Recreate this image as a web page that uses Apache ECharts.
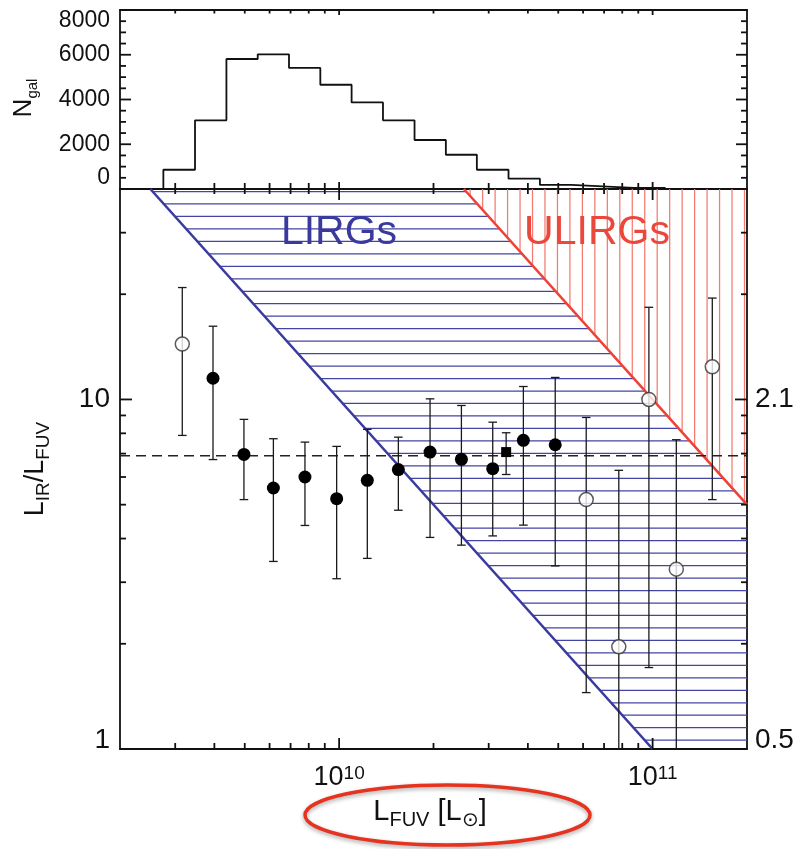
<!DOCTYPE html>
<html>
<head>
<meta charset="utf-8">
<script src="https://cdn.jsdelivr.net/npm/echarts@6/dist/echarts.min.js"></script>
<style>
  html, body { margin: 0; padding: 0; background: #fff; }
  #chart { width: 803px; height: 849px; }
</style>
</head>
<body>
<div id="chart"></div>
<script>
const FONT = '"Liberation Sans", Arial, Helvetica, sans-serif';
const INK = '#111';

// Axis ranges
const fuvRange = [2e9, 2e11];      // L_FUV [L_sun]
const ratioRange = [1, 40];        // L_IR / L_FUV
const countRange = [0, 8000];      // N_gal

// N_gal histogram: bin edges (L_FUV) and counts per bin
const histEdges = [2.75e9, 3.47e9, 4.37e9, 5.50e9, 6.92e9, 8.71e9, 1.096e10, 1.38e10, 1.74e10,
                   2.19e10, 2.75e10, 3.47e10, 4.37e10, 5.50e10, 6.92e10, 8.71e10, 1.096e11];
const histCounts = [860, 3070, 5810, 6020, 5410, 4660, 3870, 3070, 2190, 1530, 860, 460, 180, 120, 50, 50];

// Filled circles: binned L_IR/L_FUV with error range
const fuvFilled   = [3.96e9, 4.97e9, 6.17e9, 7.78e9, 9.82e9, 1.23e10, 1.545e10, 1.95e10, 2.455e10, 3.09e10, 3.87e10, 4.89e10];
const ratioFilled = [11.5, 6.96, 5.58, 6.0, 5.2, 5.87, 6.3, 7.07, 6.74, 6.34, 7.64, 7.42];
const loFilled    = [6.73, 5.17, 3.44, 4.36, 3.07, 3.51, 4.82, 4.03, 3.83, 4.07, 4.37, 3.34];
const hiFilled    = [16.2, 8.77, 7.72, 7.55, 7.34, 8.21, 7.8, 10.04, 9.61, 8.61, 10.89, 11.56];

// Open circles: sparsely populated bins
const fuvOpen   = [3.16e9, 6.14e10, 7.8e10, 9.73e10, 1.19e11, 1.55e11];
const ratioOpen = [14.4, 5.17, 1.96, 10.0, 3.27, 12.4];
const loOpen    = [7.89, 1.45, 0.6, 1.71, 0.6, 5.17];
const hiOpen    = [20.9, 8.88, 6.27, 18.35, 7.67, 19.5];

// Filled square
const fuvSquare   = [3.41e10];
const ratioSquare = [7.07];
const loSquare    = [6.1];
const hiSquare    = [8.03];

// Reference levels
const meanRatio = 6.9;
const lirgLimit = 1e11;   // L_IR of LIRGs
const ulirgLimit = 1e12;  // L_IR of ULIRGs

// Tick values
const fuvMajorTicks = [1e10, 1e11];
const fuvMinorTicks = [3e9, 4e9, 5e9, 6e9, 7e9, 8e9, 9e9, 2e10, 3e10, 4e10, 5e10, 6e10, 7e10, 8e10, 9e10];
const ratioMajorTicks = [1, 10];
const ratioMinorTicks = [2, 3, 4, 5, 6, 7, 8, 9, 20, 30];
const countMajorTicks = [0, 2000, 4000, 6000, 8000];
const countMinorTicks = [500, 1000, 1500, 2500, 3000, 3500, 4500, 5000, 5500, 6500, 7000, 7500];

// Tick label texts
const ratioLabels = { 1: '1', 10: '10' };
const afuvLabels = { 1: '0.5', 10: '2.1' };

const HATCH_STEP = 12.47;
const HATCH_OFFSET = 2.5;
const CAP_HALF = 4.3;

function isPow10(v) {
  const e = Math.log10(v);
  return Math.abs(e - Math.round(e)) < 1e-6 ? Math.round(e) : null;
}
function seg(x1, y1, x2, y2, style) {
  return { type: 'line', shape: { x1: x1, y1: y1, x2: x2, y2: y2 }, style: Object.assign({}, style) };
}

// One item per tick value; each draws the inward tick on both opposite sides
function xTickRenderer(lenBottom, lenTop) {
  return function (params, api) {
    const cs = params.coordSys;
    const top = cs.y, bottom = cs.y + cs.height;
    const major = api.value(2) === 1;
    const px = api.coord([api.value(0), api.value(1)])[0];
    const st = { stroke: INK, lineWidth: 1.8 };
    const lb = major ? lenBottom[0] : lenBottom[1];
    const lt = major ? lenTop[0] : lenTop[1];
    return { type: 'group', children: [seg(px, bottom, px, bottom - lb, st), seg(px, top, px, top + lt, st)] };
  };
}
function yTickRenderer(len) {
  return function (params, api) {
    const cs = params.coordSys;
    const left = cs.x, right = cs.x + cs.width;
    const major = api.value(2) === 1;
    const py = api.coord([api.value(0), api.value(1)])[1];
    const st = { stroke: INK, lineWidth: 1.8 };
    const l = major ? len[0] : len[1];
    return { type: 'group', children: [seg(left, py, left + l, py, st), seg(right, py, right - l, py, st)] };
  };
}
function xTickData(yRef) {
  return fuvMajorTicks.map(v => [v, yRef, 1]).concat(fuvMinorTicks.map(v => [v, yRef, 0]));
}
function yTickData(majors, minors) {
  return majors.map(v => [fuvRange[0] * 1.5, v, 1]).concat(minors.map(v => [fuvRange[0] * 1.5, v, 0]));
}

// Hatching of the LIRG band (horizontal, blue) and ULIRG zone (vertical, red)
function renderHatch(params, api) {
  const cs = params.coordSys;
  const right = cs.x + cs.width, top = cs.y, bottom = cs.y + cs.height;
  const b1 = api.coord([lirgLimit / ratioRange[1], ratioRange[1]]);
  const b2 = api.coord([lirgLimit / ratioRange[0], ratioRange[0]]);
  const r1 = api.coord([ulirgLimit / ratioRange[1], ratioRange[1]]);
  const r2 = api.coord([fuvRange[1], ulirgLimit / fuvRange[1]]);
  const xAt = (p, q, y) => p[0] + (y - p[1]) * (q[0] - p[0]) / (q[1] - p[1]);
  const yAt = (p, q, x) => p[1] + (x - p[0]) * (q[1] - p[1]) / (q[0] - p[0]);
  const blue = { stroke: '#4444a6', lineWidth: 1.25 };
  const red = { stroke: '#f27a70', lineWidth: 1.25 };
  const out = [];
  for (let y = top + HATCH_OFFSET; y <= bottom - 0.5; y += HATCH_STEP) {
    const x0 = xAt(b1, b2, y);
    const x1 = y < r2[1] ? xAt(r1, r2, y) : right;
    if (x1 > x0) out.push(seg(x0, y, x1, y, blue));
  }
  for (let x = right - HATCH_OFFSET; x > r1[0]; x -= HATCH_STEP) {
    const y1 = yAt(r1, r2, x);
    if (y1 > top) out.push(seg(x, top, x, y1, red));
  }
  return { type: 'group', children: out };
}

function renderErrorBar(params, api) {
  const x = api.value(0), lo = api.value(2), hi = api.value(3);
  const clipped = lo < ratioRange[0];
  const pLo = api.coord([x, clipped ? ratioRange[0] : lo]);
  const pHi = api.coord([x, hi]);
  const st = { stroke: '#1a1a1a', lineWidth: 1.3 };
  const out = [
    seg(pLo[0], pLo[1], pHi[0], pHi[1], st),
    seg(pHi[0] - CAP_HALF, pHi[1], pHi[0] + CAP_HALF, pHi[1], st)
  ];
  if (!clipped) out.push(seg(pLo[0] - CAP_HALF, pLo[1], pLo[0] + CAP_HALF, pLo[1], st));
  return { type: 'group', children: out };
}

const zip = (xs, ys) => xs.map((x, i) => [x, ys[i]]);
const zipErr = (xs, ys, lo, hi) => xs.map((x, i) => [x, ys[i], lo[i], hi[i]]);

// Step outline of the histogram
const histData = [[histEdges[0], 0]];
histCounts.forEach((c, i) => histData.push([histEdges[i], c]));
histData.push([histEdges[histEdges.length - 1], 0]);

const errData = [].concat(
  zipErr(fuvOpen, ratioOpen, loOpen, hiOpen),
  zipErr(fuvFilled, ratioFilled, loFilled, hiFilled),
  zipErr(fuvSquare, ratioSquare, loSquare, hiSquare)
);

// Axis titles built from pieces so subscripts sit correctly
const measureCtx = document.createElement('canvas').getContext('2d');
function textWidth(t, size) {
  measureCtx.font = size + 'px ' + FONT;
  return measureCtx.measureText(t).width;
}
function titleGroup(pieces, cx, cy, rotation) {
  const total = pieces.reduce((s, p) => s + textWidth(p.text, p.size), 0);
  let cursor = -total / 2;
  const children = pieces.map(p => {
    const el = {
      type: 'text', x: cursor, y: p.dy || 0,
      style: { text: p.text, font: p.size + 'px ' + FONT, fill: '#111', align: 'left', verticalAlign: 'middle' }
    };
    cursor += textWidth(p.text, p.size);
    return el;
  });
  return { type: 'group', x: cx, y: cy, rotation: rotation || 0, z: 100, children: children };
}

const frameLine = { show: true, onZero: false, lineStyle: { color: INK, width: 1.8 } };
const baseAxis = { axisLine: frameLine, axisTick: { show: false }, splitLine: { show: false }, minorTick: { show: false } };

const chart = echarts.init(document.getElementById('chart'), null, { renderer: 'canvas' });
chart.setOption({
  animation: false,
  backgroundColor: '#fff',
  grid: [
    { left: 120, top: 10, width: 627, height: 179, outerBoundsMode: 'none' },
    { left: 120, top: 189, width: 627, height: 560, outerBoundsMode: 'none' }
  ],
  xAxis: [
    Object.assign({ gridIndex: 0, type: 'log', position: 'bottom', min: fuvRange[0], max: fuvRange[1], axisLabel: { show: false } }, baseAxis),
    Object.assign({ gridIndex: 0, type: 'log', position: 'top', min: fuvRange[0], max: fuvRange[1], axisLabel: { show: false } }, baseAxis),
    Object.assign({
      gridIndex: 1, type: 'log', position: 'bottom', min: fuvRange[0], max: fuvRange[1],
      axisLabel: {
        show: true, margin: 15, showMinLabel: true, showMaxLabel: true,
        formatter: v => { const e = isPow10(v); return e === null ? '' : '{b|10}{s|' + e + '}'; },
        rich: {
          b: { fontSize: 27, lineHeight: 28, fontFamily: FONT, color: '#111' },
          s: { fontSize: 19, lineHeight: 14, verticalAlign: 'top', fontFamily: FONT, color: '#111' }
        }
      }
    }, baseAxis),
    Object.assign({ gridIndex: 1, type: 'log', position: 'top', min: fuvRange[0], max: fuvRange[1], axisLabel: { show: false } }, baseAxis)
  ],
  yAxis: [
    Object.assign({
      gridIndex: 0, type: 'value', position: 'left', min: countRange[0], max: countRange[1], interval: 2000,
      axisLabel: {
        show: true, margin: 10, showMinLabel: true, showMaxLabel: true,
        formatter: v => v === countRange[0] ? '{lo|' + v + '}' : (v === countRange[1] ? '{hi|' + v + '}' : '{n|' + v + '}'),
        rich: {
          n: { fontSize: 23, lineHeight: 24, fontFamily: FONT, color: '#111' },
          lo: { fontSize: 23, lineHeight: 24, fontFamily: FONT, color: '#111', padding: [0, 0, 22, 0] },
          hi: { fontSize: 23, lineHeight: 24, fontFamily: FONT, color: '#111', padding: [21, 0, 0, 0] }
        }
      }
    }, baseAxis),
    Object.assign({ gridIndex: 0, type: 'value', position: 'right', min: countRange[0], max: countRange[1], interval: 2000, axisLabel: { show: false } }, baseAxis),
    Object.assign({
      gridIndex: 1, type: 'log', position: 'left', min: ratioRange[0], max: ratioRange[1],
      axisLabel: {
        show: true, margin: 10, showMinLabel: true, showMaxLabel: true,
        formatter: v => { const e = isPow10(v); if (e === null) return ''; const t = ratioLabels[Math.pow(10, e)]; return t ? (e === 0 ? '{lo|' + t + '}' : '{n|' + t + '}') : ''; },
        rich: {
          n: { fontSize: 28, lineHeight: 28, fontFamily: FONT, color: '#111' },
          lo: { fontSize: 28, lineHeight: 28, fontFamily: FONT, color: '#111', padding: [0, 0, 18, 0] }
        }
      }
    }, baseAxis),
    Object.assign({
      gridIndex: 1, type: 'log', position: 'right', min: ratioRange[0], max: ratioRange[1],
      axisLabel: {
        show: true, margin: 8, showMinLabel: true, showMaxLabel: true,
        formatter: v => { const e = isPow10(v); if (e === null) return ''; const t = afuvLabels[Math.pow(10, e)]; return t ? (e === 0 ? '{lo|' + t + '}' : '{n|' + t + '}') : ''; },
        rich: {
          n: { fontSize: 28, lineHeight: 28, fontFamily: FONT, color: '#111' },
          lo: { fontSize: 28, lineHeight: 28, fontFamily: FONT, color: '#111', padding: [0, 0, 18, 0] }
        }
      }
    }, baseAxis)
  ],
  series: [
    // histogram
    {
      type: 'line', xAxisIndex: 0, yAxisIndex: 0, step: 'end', data: histData,
      symbol: 'none', lineStyle: { color: INK, width: 1.8 }, z: 3, silent: true
    },
    {
      type: 'custom', xAxisIndex: 0, yAxisIndex: 0, z: 8, silent: true, encode: { x: 0, y: 1 },
      data: xTickData(4000), renderItem: xTickRenderer([7, 6], [5, 3.5])
    },
    {
      type: 'custom', xAxisIndex: 0, yAxisIndex: 0, z: 8, silent: true, encode: { x: 0, y: 1 },
      data: yTickData(countMajorTicks, countMinorTicks), renderItem: yTickRenderer([11, 6])
    },
    // LIRG / ULIRG zones
    {
      type: 'custom', xAxisIndex: 2, yAxisIndex: 2, data: [[fuvRange[0] * 1.5, 5]], z: 1, silent: true,
      encode: { x: 0, y: 1 }, renderItem: renderHatch
    },
    {
      type: 'line', xAxisIndex: 2, yAxisIndex: 2, symbol: 'none', z: 3, silent: true,
      data: [[lirgLimit / ratioRange[1], ratioRange[1]], [lirgLimit / ratioRange[0], ratioRange[0]]],
      lineStyle: { color: '#3a3aa0', width: 2.6 }
    },
    {
      type: 'line', xAxisIndex: 2, yAxisIndex: 2, symbol: 'none', z: 3, silent: true,
      data: [[ulirgLimit / ratioRange[1], ratioRange[1]], [fuvRange[1], ulirgLimit / fuvRange[1]]],
      lineStyle: { color: '#ee4236', width: 2.6 }
    },
    {
      type: 'line', xAxisIndex: 2, yAxisIndex: 2, symbol: 'none', z: 3, silent: true,
      data: [[fuvRange[0], meanRatio], [fuvRange[1], meanRatio]],
      lineStyle: { color: '#222', width: 1.5, type: [10, 6] }
    },
    // error bars and points
    {
      type: 'custom', xAxisIndex: 2, yAxisIndex: 2, data: errData, z: 4, silent: true,
      encode: { x: 0, y: 1 }, renderItem: renderErrorBar
    },
    {
      type: 'scatter', xAxisIndex: 2, yAxisIndex: 2, data: zip(fuvOpen, ratioOpen), z: 5, silent: true,
      symbol: 'circle', symbolSize: 14,
      itemStyle: { color: '#fff', borderColor: '#333', borderWidth: 1.5 }
    },
    {
      type: 'scatter', xAxisIndex: 2, yAxisIndex: 2, data: zip(fuvFilled, ratioFilled), z: 5, silent: true,
      symbol: 'circle', symbolSize: 13, itemStyle: { color: '#000', opacity: 1 }
    },
    {
      type: 'scatter', xAxisIndex: 2, yAxisIndex: 2, data: zip(fuvSquare, ratioSquare), z: 5, silent: true,
      symbol: 'rect', symbolSize: 10, itemStyle: { color: '#000', opacity: 1 }
    },
    {
      type: 'custom', xAxisIndex: 2, yAxisIndex: 2, z: 8, silent: true, encode: { x: 0, y: 1 },
      data: xTickData(5), renderItem: xTickRenderer([11, 6], [11, 5])
    },
    {
      type: 'custom', xAxisIndex: 2, yAxisIndex: 2, z: 8, silent: true, encode: { x: 0, y: 1 },
      data: yTickData(ratioMajorTicks, ratioMinorTicks), renderItem: yTickRenderer([12, 6])
    }
  ],
  graphic: [
    { type: 'text', x: 339, y: 233, z: 100, silent: true,
      style: { text: 'LIRGs', font: '41px ' + FONT, fill: '#3a3a9e', align: 'center', verticalAlign: 'middle' } },
    { type: 'text', x: 597, y: 233, z: 100, silent: true,
      style: { text: 'ULIRGs', font: '41px ' + FONT, fill: '#ea473d', align: 'center', verticalAlign: 'middle' } },
    titleGroup([{ text: 'N', size: 26 }, { text: 'gal', size: 15, dy: 9 }], 24, 98, Math.PI / 2),
    titleGroup([
      { text: 'L', size: 27 }, { text: 'IR', size: 19, dy: 8 }, { text: '/', size: 27 },
      { text: 'L', size: 27 }, { text: 'FUV', size: 19, dy: 8 }
    ], 35.5, 469, Math.PI / 2),
    titleGroup([
      { text: 'L', size: 29 }, { text: 'FUV', size: 20, dy: 9 }, { text: ' [', size: 29 },
      { text: 'L', size: 29 }, { text: '\u2299', size: 20, dy: 9 }, { text: ']', size: 29 }
    ], 430, 811.5, 0),
    { type: 'ellipse', z: 101, silent: true,
      shape: { cx: 447.5, cy: 815, rx: 142.5, ry: 30 },
      style: { fill: 'transparent', stroke: '#e6321f', lineWidth: 3.5,
               shadowBlur: 4, shadowColor: 'rgba(0,0,0,0.35)', shadowOffsetY: 2 } }
  ]
});
</script>
</body>
</html>
